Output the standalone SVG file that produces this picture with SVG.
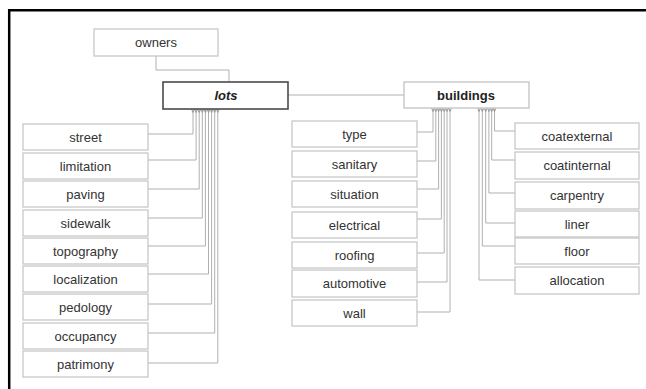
<svg xmlns="http://www.w3.org/2000/svg" width="646" height="389" viewBox="0 0 646 389">
  <defs>
    <style>
      .frame { fill: none; stroke: #000; stroke-width: 2.5; }
      .box { fill: #fff; stroke: #c4c4c4; stroke-width: 1.2; }
      .main { fill: #fff; stroke: #4a4a4a; stroke-width: 1.6; }
      .main2 { fill: #fff; stroke: #bdbdbd; stroke-width: 1.2; }
      .lbl { font-family: "Liberation Sans", Arial, sans-serif; font-size: 13px; fill: #333; text-anchor: middle; }
      .bold { font-weight: bold; fill: #222; }
      .link { fill: none; stroke: #b0b0b0; stroke-width: 1; }
      .fk { fill: none; stroke: #8a8a8a; stroke-width: 0.8; }
    </style>
    <!-- crow's foot at the parent end of each relation -->
    <marker id="crow" markerUnits="userSpaceOnUse" markerWidth="6" markerHeight="6" refX="0" refY="3" orient="auto" overflow="visible">
      <path class="fk" d="M0,1.6 L3,3 L0,4.4"/>
    </marker>
    <marker id="ring" markerUnits="userSpaceOnUse" markerWidth="6" markerHeight="6" refX="0" refY="3" orient="auto" overflow="visible">
      <circle cx="2" cy="3" r="1.6" fill="#fff" stroke="#999" stroke-width="0.8"/>
    </marker>
  </defs>

  <rect x="0" y="0" width="646" height="389" fill="#fff"/>
  <path class="frame" d="M9.2,389 V10.2 H646"/>

  <g id="connectors">
    <!-- owners -> lots -->
    <path class="link" d="M156,56 V70 H229 V82" marker-end="url(#crow)"/>
    <!-- lots -> buildings -->
    <path class="link" d="M288,95 H404" marker-end="url(#ring)"/>
    <!-- lots -> attributes -->
    <path class="link" d="M193,109.5 V134 H148" marker-start="url(#crow)"/>
    <path class="link" d="M196.1,109.5 V160 H148" marker-start="url(#crow)"/>
    <path class="link" d="M199.2,109.5 V189 H148" marker-start="url(#crow)"/>
    <path class="link" d="M202.3,109.5 V218 H148" marker-start="url(#crow)"/>
    <path class="link" d="M205.4,109.5 V246 H148" marker-start="url(#crow)"/>
    <path class="link" d="M208.5,109.5 V274 H148" marker-start="url(#crow)"/>
    <path class="link" d="M211.6,109.5 V304 H148" marker-start="url(#crow)"/>
    <path class="link" d="M214.7,109.5 V333 H148" marker-start="url(#crow)"/>
    <path class="link" d="M217.8,109.5 V363 H148" marker-start="url(#crow)"/>
    <!-- buildings -> left attributes -->
    <path class="link" d="M433,108.5 V132 H417" marker-start="url(#crow)"/>
    <path class="link" d="M435.8,108.5 V161 H417" marker-start="url(#crow)"/>
    <path class="link" d="M438.6,108.5 V189 H417" marker-start="url(#crow)"/>
    <path class="link" d="M441.4,108.5 V219 H417" marker-start="url(#crow)"/>
    <path class="link" d="M444.2,108.5 V253 H417" marker-start="url(#crow)"/>
    <path class="link" d="M447,108.5 V282 H417" marker-start="url(#crow)"/>
    <path class="link" d="M450,108.5 V312 H417" marker-start="url(#crow)"/>
    <!-- buildings -> right attributes -->
    <path class="link" d="M494.5,108.5 V131 H515" marker-start="url(#crow)"/>
    <path class="link" d="M491.7,108.5 V160 H515" marker-start="url(#crow)"/>
    <path class="link" d="M488.9,108.5 V193 H515" marker-start="url(#crow)"/>
    <path class="link" d="M485.7,108.5 V223 H515" marker-start="url(#crow)"/>
    <path class="link" d="M482.3,108.5 V246 H515" marker-start="url(#crow)"/>
    <path class="link" d="M479,108.5 V280 H515" marker-start="url(#crow)"/>
  </g>

  <g id="owners"><rect class="box" x="94" y="29" width="124" height="27"/><text class="lbl" x="156" y="47">owners</text></g>
  <g id="lots"><rect class="main" x="163" y="82" width="125" height="27"/><text class="lbl bold" x="226" y="100" font-style="italic">lots</text></g>
  <g id="buildings"><rect class="main2" x="404" y="82" width="125" height="26"/><text class="lbl bold" x="466" y="100">buildings</text></g>

  <g id="street"><rect class="box" x="23" y="124" width="125" height="26"/><text class="lbl" x="85.5" y="141.5">street</text></g>
  <g id="limitation"><rect class="box" x="23" y="153" width="125" height="26"/><text class="lbl" x="85.5" y="170.5">limitation</text></g>
  <g id="paving"><rect class="box" x="23" y="181" width="125" height="26"/><text class="lbl" x="85.5" y="198.5">paving</text></g>
  <g id="sidewalk"><rect class="box" x="23" y="210" width="125" height="26"/><text class="lbl" x="85.5" y="227.5">sidewalk</text></g>
  <g id="topography"><rect class="box" x="23" y="238" width="125" height="26"/><text class="lbl" x="85.5" y="255.5">topography</text></g>
  <g id="localization"><rect class="box" x="23" y="266" width="125" height="26"/><text class="lbl" x="85.5" y="283.5">localization</text></g>
  <g id="pedology"><rect class="box" x="23" y="294" width="125" height="26"/><text class="lbl" x="85.5" y="311.5">pedology</text></g>
  <g id="occupancy"><rect class="box" x="23" y="323" width="125" height="26"/><text class="lbl" x="85.5" y="340.5">occupancy</text></g>
  <g id="patrimony"><rect class="box" x="23" y="351" width="125" height="26"/><text class="lbl" x="85.5" y="368.5">patrimony</text></g>

  <g id="type"><rect class="box" x="292" y="121" width="125" height="26"/><text class="lbl" x="354.5" y="138.5">type</text></g>
  <g id="sanitary"><rect class="box" x="292" y="151" width="125" height="26"/><text class="lbl" x="354.5" y="168.5">sanitary</text></g>
  <g id="situation"><rect class="box" x="292" y="181" width="125" height="26"/><text class="lbl" x="354.5" y="198.5">situation</text></g>
  <g id="electrical"><rect class="box" x="292" y="212" width="125" height="26"/><text class="lbl" x="354.5" y="229.5">electrical</text></g>
  <g id="roofing"><rect class="box" x="292" y="242" width="125" height="26"/><text class="lbl" x="354.5" y="259.5">roofing</text></g>
  <g id="automotive"><rect class="box" x="292" y="270" width="125" height="27"/><text class="lbl" x="354.5" y="288">automotive</text></g>
  <g id="wall"><rect class="box" x="292" y="300" width="125" height="26"/><text class="lbl" x="354.5" y="317.5">wall</text></g>

  <g id="coatexternal"><rect class="box" x="515" y="123" width="124" height="26"/><text class="lbl" x="577" y="140.5">coatexternal</text></g>
  <g id="coatinternal"><rect class="box" x="515" y="152" width="124" height="27"/><text class="lbl" x="577" y="170">coatinternal</text></g>
  <g id="carpentry"><rect class="box" x="515" y="182" width="124" height="27"/><text class="lbl" x="577" y="200">carpentry</text></g>
  <g id="liner"><rect class="box" x="515" y="211" width="124" height="26"/><text class="lbl" x="577" y="228.5">liner</text></g>
  <g id="floor"><rect class="box" x="515" y="238" width="124" height="26"/><text class="lbl" x="577" y="255.5">floor</text></g>
  <g id="allocation"><rect class="box" x="515" y="267" width="124" height="27"/><text class="lbl" x="577" y="285">allocation</text></g>
</svg>
